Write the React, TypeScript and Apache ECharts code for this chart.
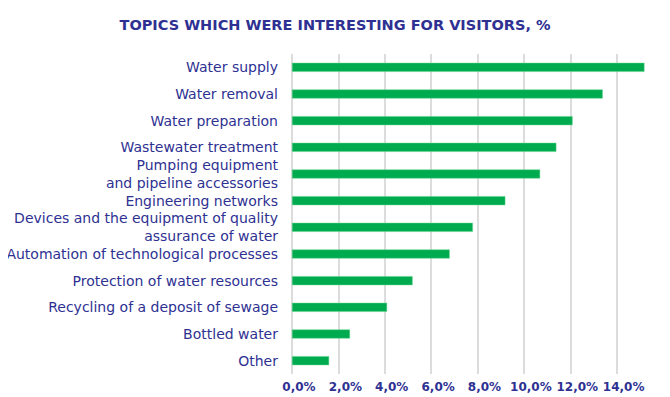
import React, { useEffect, useRef } from "react";
import * as echarts from "echarts";

const categories = [
  "Water supply",
  "Water removal",
  "Water preparation",
  "Wastewater treatment",
  "Pumping equipment\nand pipeline accessories",
  "Engineering networks",
  "Devices and the equipment of quality\nassurance of water",
  "Automation of technological processes",
  "Protection of water resources",
  "Recycling of a deposit of sewage",
  "Bottled water",
  "Other",
];
const values = [15.2, 13.4, 12.1, 11.4, 10.7, 9.2, 7.8, 6.8, 5.2, 4.1, 2.5, 1.6];
const titleText = "TOPICS WHICH WERE INTERESTING FOR VISITORS, %";

const navy = "#2E3192";

export default function App() {
  const ref = useRef<HTMLDivElement>(null);
  useEffect(() => {
    const chart = echarts.init(ref.current!, null, { renderer: "svg" });
    chart.setOption({
      animation: false,
      title: {
        text: titleText,
        left: "center",
        top: 12,
        textStyle: { fontFamily: "DejaVu Sans", fontSize: 14.5, fontWeight: "bold", color: navy },
      },
      grid: { left: 292, right: 7, top: 54, bottom: 23, containLabel: false },
      xAxis: {
        type: "value",
        min: 0,
        max: 16,
        interval: 2,
        axisLine: { show: false },
        axisTick: { show: false },
        splitLine: { show: true, lineStyle: { color: "#dcdcdc", width: 2 } },
        axisLabel: {
          margin: 7,
          padding: [0, 0, 0, 14],
          showMaxLabel: false,
          fontFamily: "DejaVu Sans",
          fontSize: 12,
          fontWeight: "bold",
          color: navy,
          formatter: (v: number) => v.toFixed(1).replace(".", ",") + "%",
        },
      },
      yAxis: {
        type: "category",
        data: categories,
        inverse: true,
        axisLine: { show: false },
        axisTick: { show: false },
        axisLabel: {
          margin: 14,
          fontFamily: "DejaVu Sans",
          fontSize: 14,
          lineHeight: 18,
          color: navy,
        },
      },
      series: [
        {
          type: "bar",
          data: values,
          barWidth: 9,
          itemStyle: { color: "#00AA4F", borderColor: "#5fd48a", borderWidth: 0.5 },
        },
      ],
    });
    return () => chart.dispose();
  }, []);
  return <div ref={ref} style={{ width: 670, height: 397, marginLeft: -8, marginTop: -8 }} />;
}
